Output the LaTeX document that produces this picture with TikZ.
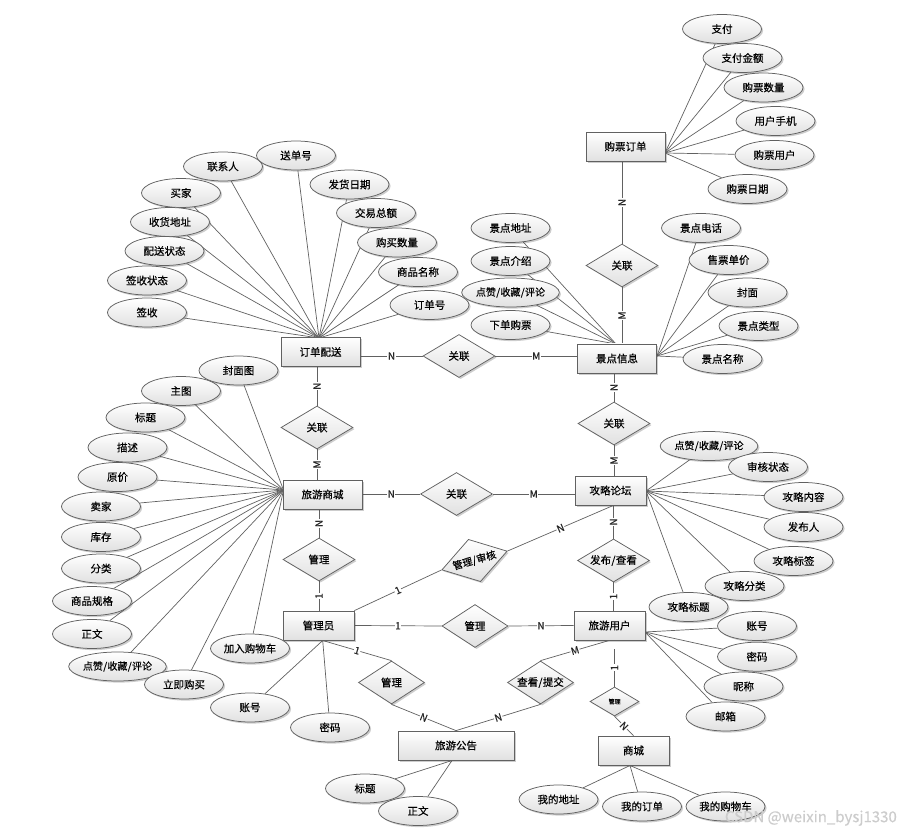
\documentclass[tikz,border=0pt]{standalone}
\usepackage{fontspec}
\setmainfont{Noto Sans CJK SC}[FakeBold=0.35]
\usetikzlibrary{shapes.geometric,shadows}
\pgfdeclarelayer{bg}
\pgfsetlayers{bg,main}
\newcommand\zsl{\kern0.3pt/\kern0.3pt}
\begin{document}
\begin{tikzpicture}[x=1pt,y=-1pt,
 base/.style={draw=black!62, line width=0.75pt, top color=white, bottom color=black!12,
   drop shadow={shadow xshift=1.6pt, shadow yshift=-1.6pt, opacity=0.28, fill=black!70},
   font=\fontsize{10.5}{12}\selectfont, inner sep=0pt},
 ent/.style={base, rectangle, minimum width=79, minimum height=29},
 attr/.style={base, ellipse, minimum width=79, minimum height=29},
 rel/.style={base, diamond, shape aspect=1.6, minimum width=72, minimum height=43},
 lk/.style={draw=black!62, line width=0.7pt},
 lab/.style={fill=white, inner sep=0.6pt, font=\fontsize{10}{11}\selectfont, text=black!85},
 lng/.style={font=\fontsize{10}{11}\selectfont},
]
\useasboundingbox (0,0) rectangle (900,834);

% ---------- entities ----------
\node[ent] (ticket) at (625.5,146.5) {购票订单};
\node[ent] (scenic) at (617,358.5) {景点信息};
\node[ent] (order) at (320.5,352) {订单配送};
\node[ent] (mall) at (322.5,494.5) {旅游商城};
\node[ent, minimum width=71] (admin) at (318.5,625.5) {管理员};
\node[ent, minimum width=116] (notice) at (456,745.5) {旅游公告};
\node[ent, minimum width=71] (forum) at (610.5,490.5) {攻略论坛};
\node[ent, minimum width=71] (user) at (609.5,625.5) {旅游用户};
\node[ent, minimum width=71] (shop) at (633.5,750.5) {商城};

% ---------- relationships ----------
\node[rel] (r1) at (622,265.5) {关联};
\node[rel] (r2) at (459,356) {关联};
\node[rel] (r3) at (317,427.5) {关联};
\node[rel] (r4) at (456.5,494) {关联};
\node[rel] (r5) at (614,423.5) {关联};
\node[rel] (r6) at (319,559.5) {管理};
\node[rel, minimum width=68, minimum height=44, rotate=16, lng] (r7) at (474.5,560.5) {管理\zsl 审核};
\node[rel, minimum width=66] (r8) at (475,626) {管理};
\node[rel, minimum width=66] (r9) at (391.5,682.5) {管理};
\node[rel, minimum width=66] (r10) at (540.5,682.5) {查看\zsl 提交};
\node[rel] (r11) at (613.5,560.5) {发布\zsl 查看};
\node[rel, minimum width=49, minimum height=29, font=\fontsize{6}{7}\selectfont] (r12) at (614.5,701.5) {管理};

% ---------- attributes ----------
\node[attr] (t1) at (722,29) {支付};
\node[attr] (t2) at (742.5,58) {支付金额};
\node[attr] (t3) at (763.5,87.5) {购票数量};
\node[attr] (t4) at (775.5,121) {用户手机};
\node[attr] (t5) at (774.5,155) {购票用户};
\node[attr] (t6) at (747.5,189) {购票日期};

\node[attr] (s1) at (510.5,228) {景点地址};
\node[attr] (s2) at (510.5,261) {景点介绍};
\node[attr, lng] (s3) at (510.5,292.5) {点赞\zsl 收藏\zsl 评论};
\node[attr] (s4) at (510.5,325) {下单购票};
\node[attr] (s5) at (701,228) {景点电话};
\node[attr] (s6) at (728.5,260) {售票单价};
\node[attr] (s7) at (747.5,292.5) {封面};
\node[attr] (s8) at (758.5,326) {景点类型};
\node[attr] (s9) at (722.5,359) {景点名称};

\node[attr] (o2) at (223,166.5) {联系人};
\node[attr] (o1) at (296,155.5) {送单号};
\node[attr] (o3) at (181,193) {买家};
\node[attr] (o4) at (170,222) {收货地址};
\node[attr] (o5) at (164.5,251) {配送状态};
\node[attr] (o6) at (147,280.5) {签收状态};
\node[attr] (o7) at (147,312.5) {签收};
\node[attr] (o8) at (349.5,184.5) {发货日期};
\node[attr] (o9) at (376,213) {交易总额};
\node[attr] (o10) at (397,242.5) {购买数量};
\node[attr] (o11) at (418,272) {商品名称};
\node[attr] (o12) at (429.5,305) {订单号};

\node[attr] (m1) at (238.5,370.5) {封面图};
\node[attr] (m2) at (181,391) {主图};
\node[attr] (m3) at (145.5,417.5) {标题};
\node[attr] (m4) at (127.5,447.5) {描述};
\node[attr] (m5) at (117.5,477) {原价};
\node[attr] (m6) at (101,506.5) {卖家};
\node[attr] (m7) at (101,537) {库存};
\node[attr] (m8) at (101,568.5) {分类};
\node[attr] (m9) at (92,601) {商品规格};
\node[attr] (m10) at (92,634) {正文};
\node[attr] (m13) at (250,648.5) {加入购物车};
\node[attr, lng] (m11) at (117.5,666.5) {点赞\zsl 收藏\zsl 评论};
\node[attr] (m12) at (184,684.5) {立即购买};

\node[attr] (ad1) at (250,707.5) {账号};
\node[attr] (ad2) at (330,727.5) {密码};

\node[attr] (n1) at (365,788.5) {标题};
\node[attr] (n2) at (418,811) {正文};

\node[attr, lng] (f1) at (709,446) {点赞\zsl 收藏\zsl 评论};
\node[attr] (f2) at (768,467) {审核状态};
\node[attr] (f3) at (803.5,497) {攻略内容};
\node[attr] (f4) at (803.5,527) {发布人};
\node[attr] (f5) at (793.5,561) {攻略标签};
\node[attr] (f6) at (744.5,586) {攻略分类};
\node[attr] (f7) at (688.5,607) {攻略标题};

\node[attr] (u1) at (757,626) {账号};
\node[attr] (u2) at (757,656.7) {密码};
\node[attr] (u3) at (743.5,686.5) {昵称};
\node[attr] (u4) at (725.5,716.5) {邮箱};

\node[attr] (sh1) at (558.5,799.5) {我的地址};
\node[attr] (sh2) at (642,806.5) {我的订单};
\node[attr] (sh3) at (725.5,806.5) {我的购物车};

% ---------- fan-in points ----------
\coordinate (cT) at (665,153);
\coordinate (cJL) at (616,344);
\coordinate (cJR) at (657,356);
\coordinate (cOD) at (319,338);
\coordinate (cMall) at (283.5,490);
\coordinate (cForum) at (646,491);
\coordinate (cUser) at (645,632);
\coordinate (cAdm) at (322.7,640.5);
\coordinate (cNotice) at (452,760.5);
\coordinate (cShop) at (630,765.5);
\coordinate (cUsr2) at (614.5,649);

\begin{pgfonlayer}{bg}
\foreach \n in {t1,t2,t3,t4,t5,t6} \draw[lk] (cT) -- (\n);
\foreach \n in {s1,s2,s3,s4} \draw[lk] (cJL) -- (\n);
\foreach \n in {s5,s6,s7,s8,s9} \draw[lk] (cJR) -- (\n);
\foreach \n in {o1,o2,o3,o4,o5,o6,o7,o8,o9,o10,o11,o12} \draw[lk] (cOD) -- (\n);
\foreach \n in {m1,m2,m3,m4,m5,m6,m7,m8,m9,m10,m11,m12,m13} \draw[lk] (cMall) -- (\n);
\foreach \n in {ad1,ad2} \draw[lk] (cAdm) -- (\n);
\foreach \n in {n1,n2} \draw[lk] (cNotice) -- (\n);
\foreach \n in {f1,f2,f3,f4,f5,f6,f7} \draw[lk] (cForum) -- (\n);
\foreach \n in {u1,u2,u3,u4} \draw[lk] (cUser) -- (\n);
\foreach \n in {sh1,sh2,sh3} \draw[lk] (cShop) -- (\n);

\draw[lk] (ticket.south -| r1.north) -- node[lab,rotate=90]{N} (r1.north);
\draw[lk] (r1.south) -- node[lab,rotate=90]{M} (scenic.north -| r1.south);
\draw[lk] (order.east |- r2.west) -- node[lab]{N} (r2.west);
\draw[lk] (r2.east) -- node[lab]{M} (scenic.west |- r2.east);
\draw[lk] (order.south -| r3.north) -- node[lab,rotate=90]{N} (r3.north);
\draw[lk] (r3.south) -- node[lab,rotate=90]{M} (mall.north -| r3.south);
\draw[lk] (mall.east |- r4.west) -- node[lab]{N} (r4.west);
\draw[lk] (r4.east) -- node[lab]{M} (forum.west |- r4.east);
\draw[lk] (scenic.south -| r5.north) -- node[lab,rotate=90]{N} (r5.north);
\draw[lk] (r5.south) -- node[lab,rotate=90]{M} (forum.north -| r5.south);
\draw[lk] (mall.south -| r6.north) -- node[lab,rotate=90]{N} (r6.north);
\draw[lk] (r6.south) -- node[lab,rotate=90]{1} (admin.north -| r6.south);
\draw[lk] (admin.north east) -- node[lab,sloped]{1} (r7.west);
\draw[lk] (r7.east) -- node[lab,sloped]{N} (forum.south -| r11.north);
\draw[lk] (forum.south -| r11.north) -- node[lab,rotate=90]{N} (r11.north);
\draw[lk] (r11.south) -- node[lab,rotate=90]{1} (user.north -| r11.south);
\draw[lk] (admin.east) -- node[lab]{1} (r8.west);
\draw[lk] (r8.east) -- node[lab]{N} (user.west);
\draw[lk] (cAdm) -- node[lab,sloped]{1} (r9.north);
\draw[lk] (r9.south) -- node[lab,sloped]{N} (notice.north);
\draw[lk] (user.south) -- node[lab,sloped]{M} (r10.north);
\draw[lk] (r10.south) -- node[lab,sloped]{N} (notice.north);
\draw[lk] (cUsr2) -- node[lab,rotate=90]{1} (r12.north);
\draw[lk] (r12.south) -- node[lab,sloped]{N} (shop.north);
\end{pgfonlayer}

\node[text=black!20, font=\fontsize{15}{16}\selectfont, anchor=east, inner sep=0pt] (wm) at (897,818) {CSDN @weixin\_bysj1330};
\end{tikzpicture}
\end{document}
